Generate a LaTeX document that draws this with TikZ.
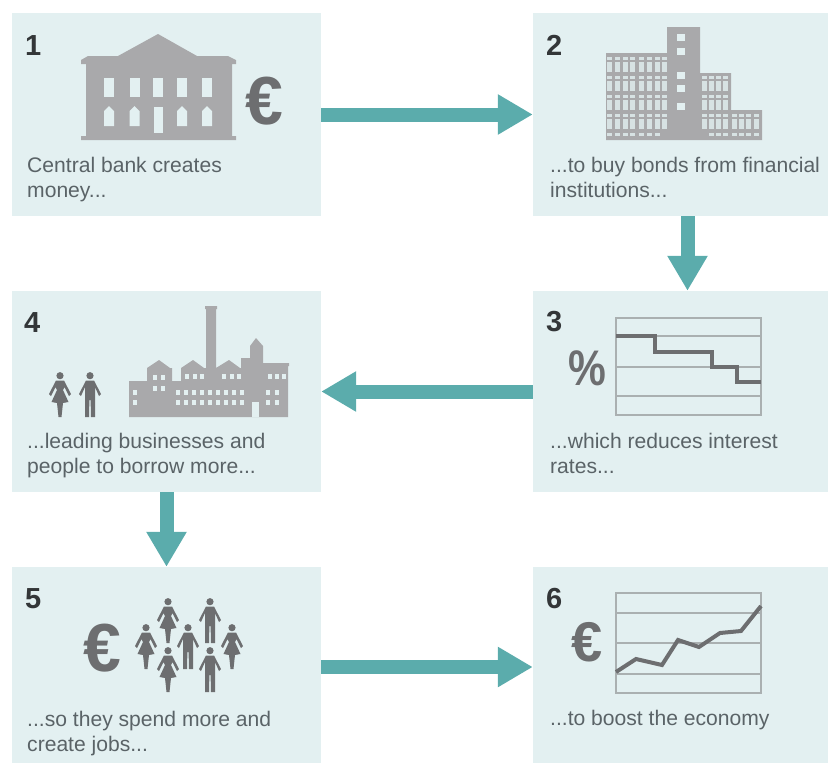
\documentclass[tikz,border=0pt]{standalone}
\usepackage{fontspec}
\setmainfont{Liberation Sans}
\usetikzlibrary{arrows.meta,positioning}
\definecolor{panel}{HTML}{E3F0F1}
\definecolor{flow1}{HTML}{5BACAC}
\definecolor{icon1}{HTML}{A9A9AB}
\definecolor{icon2}{HTML}{6D6E70}
\definecolor{grid1}{HTML}{AAB0B1}
\definecolor{ink1}{HTML}{5A6367}
\definecolor{ink2}{HTML}{333638}
\colorlet{pane1}{panel!80!icon1}
\def\panelw{309pt}

\begin{document}
\begin{tikzpicture}[x=1pt,y=-1pt]
\tikzstyle{step box}=[fill=panel,minimum width=\panelw,inner sep=0pt]
\tikzstyle{flow}=[draw=flow1,line width=14pt,-{Triangle[width=38pt,length=35pt,fill=flow1]}]
\tikzstyle{number}=[anchor=base west,inner sep=0pt,text=ink2,font=\fontsize{29}{29}\selectfont\bfseries]
\tikzstyle{note}=[anchor=north west,inner sep=0pt,align=left,text=ink1,font=\fontsize{21.1}{24.6}\selectfont]
\tikzstyle{sign}=[anchor=base,inner sep=0pt,text=icon2,font=\fontsize{68}{68}\selectfont\bfseries]
\tikzstyle{gridline}=[draw=grid1,line width=1.3pt]
\tikzstyle{curve}=[draw=icon2,line width=4pt,line join=miter]
\tikzset{
man/.pic={
\fill[icon2] (0,3.7) circle (3.6);
\fill[icon2] (-4,8.5) -- (-11,22) -- (-9,24) -- (-5,15) -- (-5,45) -- (-1,45) -- (-0.6,28) -- (0.6,28) -- (1,45) -- (5,45) -- (5,15) -- (9,24) -- (11,22) -- (4,8.5) -- cycle;
},
woman/.pic={
\fill[icon2] (0,3.7) circle (3.6);
\fill[icon2] (-4,8.5) -- (-11,22) -- (-9,24) -- (-4.5,15) -- (-3,18) -- (-8.5,30) -- (-3,31) -- (-1.5,45) -- (1.5,45) -- (3,31) -- (8.5,30) -- (3,18) -- (4.5,15) -- (9,24) -- (11,22) -- (4,8.5) -- cycle;
}}

\useasboundingbox (0,0) rectangle (828,763);
\clip (0,0) rectangle (828,763);

% Draw the panels
\node[step box,minimum height=203pt] (P-1) at (166.5,114.5) {};
\node[step box,minimum height=203pt] (P-2) at (687.5,114.5) {};
\node[step box,minimum height=201pt] (P-3) at (687.5,391.5) {};
\node[step box,minimum height=201pt] (P-4) at (166.5,391.5) {};
\node[step box,minimum height=200pt] (P-5) at (166.5,667) {};
\node[step box,minimum height=200pt] (P-6) at (687.5,667) {};

% Connect the panels
\draw[flow] (P-1.east) -- (P-2.west);
\draw[flow] (P-2.south) -- (P-3.north);
\draw[flow] (P-3.west) -- (P-4.east);
\draw[flow] (P-4.south) -- (P-5.north);
\draw[flow] (P-5.east) -- (P-6.west);

% Numbers
\foreach \name / \x / \y in {1/25/55,2/546/55,3/546/331,4/24/332,5/25/608,6/546/608}
\node[number] (N-\name) at (\x,\y) {\name};

% Captions
\node[note] (T-1) at (27,155) {\strut Central bank creates\\money...};
\node[note] (T-2) at (550,155) {\strut ...to buy bonds from financial\\institutions...};
\node[note] (T-3) at (550,431) {\strut ...which reduces interest\\rates...};
\node[note] (T-4) at (27,431) {\strut ...leading businesses and\\people to borrow more...};
\node[note] (T-5) at (27,709) {\strut ...so they spend more and\\create jobs...};
\node[note] (T-6) at (550,708) {\strut ...to boost the economy};

% Central bank
\fill[icon1] (158,34) -- (197,56) -- (228,56) -- (236,60) -- (236,64) -- (232,64) -- (232,136) -- (236,136) -- (236,140) -- (81,140) -- (81,136) -- (86,136) -- (86,64) -- (81,64) -- (81,60) -- (88,56) -- (118,56) -- cycle;
\foreach \x in {109,134.5,158,182,207} {
\fill[panel] (\x-5,78) rectangle (\x+5,97);
}
\foreach \x in {109,134.5,182,207} {
\fill[panel] (\x-5,126) -- (\x-5,111) -- (\x,106) -- (\x+5,111) -- (\x+5,126) -- cycle;
}
\fill[panel] (154,107) rectangle (163,133);
\node[sign] (E-1) at (264.5,124) {€};

% Office blocks
\fill[icon1] (606,53) -- (667,53) -- (667,27) -- (700,27) -- (700,73) -- (731,73) -- (731,110) -- (762,110) -- (762,140) -- (606,140) -- cycle;
\foreach \y in {57,76,95,114} {
\foreach \x in {609,617,625,632,641,649,657,664} {
\fill[pane1] (\x-2.5,\y) rectangle +(5,2.5);
\fill[pane1] (\x-2.5,\y+5) rectangle +(5,10);
}}
\foreach \x in {609,617,625,632,641,649,657} {
\fill[pane1] (\x-2.5,133) rectangle +(5,2.5);
}
\foreach \y in {76,95,114} {
\foreach \x in {704.5,711.5,718.5,725.5} {
\fill[pane1] (\x-2.5,\y) rectangle +(5,2.5);
\fill[pane1] (\x-2.5,\y+5) rectangle +(5,10);
}}
\foreach \x in {734,741.5,748.5,756} {
\fill[pane1] (\x-2.5,114) rectangle +(5,2.5);
\fill[pane1] (\x-2.5,119) rectangle +(5,10);
\fill[pane1] (\x-2.5,133) rectangle +(5,2.5);
}
\foreach \x in {711.5,718.5,725.5} {
\fill[pane1] (\x-2.5,133) rectangle +(5,2.5);
}
\foreach \y in {34,48,72,85,103} {
\fill[panel] (677,\y) rectangle +(8,6.5);
}

% Falling rates
\draw[gridline] (616,318) rectangle (761,415);
\foreach \y in {336,367,396} {
\draw[gridline] (616,\y) -- (761,\y);
}
\draw[curve] (616,336) -- (655,336) -- (655,352) -- (712,352) -- (712,367) -- (737,367) -- (737,382) -- (761,382);
\node[sign,font=\fontsize{50}{50}\selectfont\bfseries] (R-1) at (587,385) {\scalebox{.85}[1]{\%}};

% Factory and two people
\fill[icon1] (129,417) -- (129,381) -- (147,381) -- (147,368) -- (159,360) -- (170,368) -- (172,368) -- (172,381) -- (181,381) -- (181,368) -- (193,360) -- (204,368) -- (206,368) -- (206,309) -- (205,309) -- (205,306) -- (217,306) -- (217,309) -- (216,309) -- (216,368) -- (229,360) -- (240,368) -- (241,368) -- (241,358) -- (250,358) -- (250,346) -- (256,338) -- (263,346) -- (263,363) -- (289,363) -- (289,366) -- (288,366) -- (288,417) -- cycle;
\fill[panel] (252,402) rectangle (259,417);
\foreach \x / \y in {135/392,135/402,155/377,163/377,155/388,163/388,187/376,195/376,202/376,224/376,232/376,239/376,270/376,277/376,284/376,268/392,277/392,268/402,277/402} {
\fill[panel] (\x-2,\y-2) rectangle +(4,4.5);
}
\foreach \y in {392,402} {
\foreach \x in {178,186,194,202,210,218,226,234,242} {
\fill[panel] (\x-2,\y-2) rectangle +(4,4.5);
}}
\pic at (60,372) {woman};
\pic at (90,372) {man};

% Crowd
\node[sign] (E-5) at (102,671) {€};
\foreach \x / \y in {168/598,146/624,232/624,168/647} {
\pic at (\x,\y) {woman};
}
\foreach \x / \y in {210/598,188/624,210/647} {
\pic at (\x,\y) {man};
}

% Rising economy
\draw[gridline] (616,593) rectangle (761,693);
\foreach \y in {613,643,674} {
\draw[gridline] (616,\y) -- (761,\y);
}
\draw[curve] (616,672) -- (636,659) -- (662,665) -- (678,640) -- (699,647) -- (720,633) -- (741,631) -- (761,606);
\node[sign,font=\fontsize{56}{56}\selectfont\bfseries] (E-6) at (587,661) {€};
\end{tikzpicture}
\end{document}
